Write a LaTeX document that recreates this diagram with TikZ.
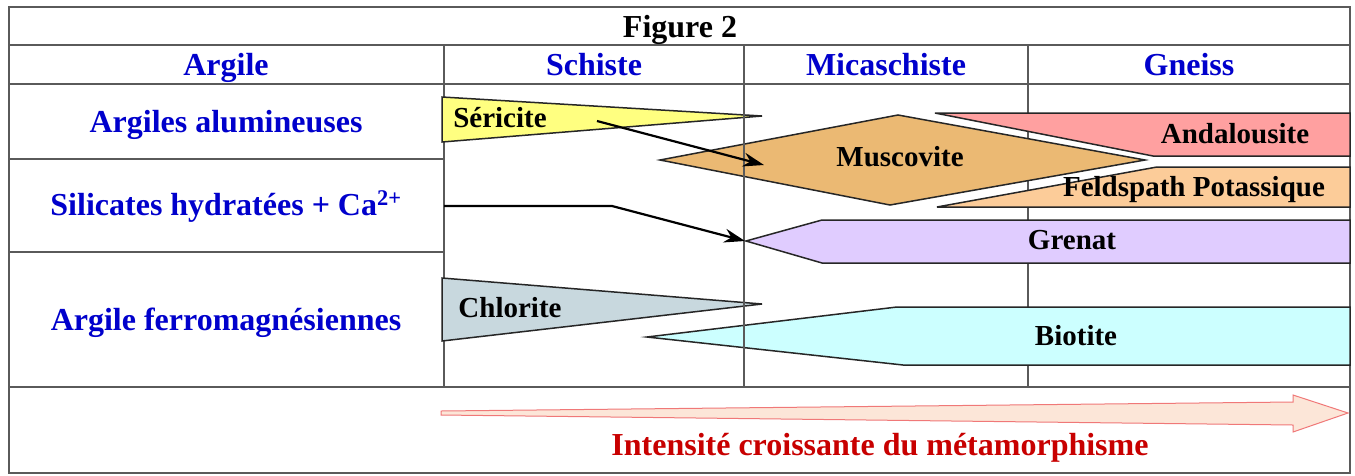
\documentclass[tikz,border=0pt]{standalone}
\usepackage{fontspec}
\setmainfont{Liberation Serif}
\usetikzlibrary{arrows.meta}
\definecolor{hdrblue}{RGB}{0,0,204}
\definecolor{intred}{RGB}{200,0,0}
\definecolor{gridgray}{RGB}{90,90,90}
\definecolor{sericol}{RGB}{255,255,128}
\definecolor{muscol}{RGB}{235,185,115}
\definecolor{andcol}{RGB}{255,160,160}
\definecolor{feldcol}{RGB}{252,204,153}
\definecolor{grencol}{RGB}{224,204,255}
\definecolor{chlocol}{RGB}{200,216,222}
\definecolor{biocol}{RGB}{204,255,255}
\definecolor{arrfill}{RGB}{252,230,216}
\definecolor{arrdraw}{RGB}{240,120,120}
\tikzset{
  grid/.style={draw=gridgray, line width=1.5pt},
  mineral/.style={draw=black!85, line width=1.5pt, line join=miter},
  big/.style={font=\bfseries\fontsize{32}{38}\selectfont, inner sep=0pt, anchor=base},
  hdr/.style={big, text=hdrblue},
  lbl/.style={font=\bfseries\fontsize{29}{34}\selectfont, inner sep=0pt, anchor=base, text=black},
  conn/.style={draw=black, line width=2.2pt, -{Stealth[length=21pt,width=14pt,inset=7pt]}},
}
\begin{document}
\begin{tikzpicture}[x=1pt,y=-1pt]
\useasboundingbox (0,0) rectangle (1355,475);
\fill[white] (0,0) rectangle (1355,475);
% table grid
\draw[grid] (9,7) rectangle (1350,473);
\draw[grid] (9,45) -- (1350,45);
\draw[grid] (9,84) -- (1350,84);
\draw[grid] (9,387) -- (1350,387);
\draw[grid] (444,45) -- (444,387);
\draw[grid] (1028,45) -- (1028,387);
\draw[grid] (9,159) -- (444,159);
\draw[grid] (9,252) -- (444,252);
% minerals
\draw[mineral, fill=sericol] (442,97) -- (762,116) -- (442,142) -- cycle;
\draw[mineral, fill=andcol] (935,113) -- (1350,113) -- (1350,156) -- (1153,156) -- cycle;
\draw[mineral, fill=feldcol] (1157,167) -- (1350,167) -- (1350,207) -- (937,207) -- cycle;
\draw[mineral, fill=muscol] (660,160) -- (898,115) -- (1145,160) -- (890,205) -- cycle;
\draw[mineral, fill=grencol] (746,241) -- (822,220) -- (1350,220) -- (1350,263) -- (822,263) -- cycle;
\draw[mineral, fill=chlocol] (442,278) -- (762,304) -- (442,341) -- cycle;
\draw[mineral, fill=biocol] (647,337) -- (897,307) -- (1350,307) -- (1350,365) -- (903,365) -- cycle;
\draw[grid] (744,45) -- (744,387);
% intensity arrow
\draw[draw=arrdraw, fill=arrfill, line width=1pt] (441,411) -- (1293,402) -- (1293,395) -- (1348,413) -- (1293,432) -- (1293,425) -- (441,415) -- cycle;
% connectors
\coordinate (a1s) at (597,121);
\coordinate (a1e) at (764,165);
\coordinate (a2s) at (444,206);
\coordinate (a2k) at (612,206);
\coordinate (a2e) at (745,241);
\draw[conn] (a1s) -- (a1e);
\draw[conn] (a2s) -- (a2k) -- (a2e);
% texts
\node[big] (fig) at (680,37) {Figure 2};
\node[hdr] (hArg) at (226,75) {Argile};
\node[hdr] (hSch) at (594,75) {Schiste};
\node[hdr] (hMic) at (886,75) {Micaschiste};
\node[hdr] (hGne) at (1189,75) {Gneiss};
\node[hdr] (rAlu) at (226,132) {Argiles alumineuses};
\node[hdr] (rSil) at (226,215) {Silicates hydratées + Ca\textsuperscript{2+}};
\node[hdr] (rFer) at (226,330) {Argile ferromagnésiennes};
\node[lbl] (ser) at (500,127) {Séricite};
\node[lbl] (mus) at (900,166) {Muscovite};
\node[lbl] (and) at (1235,143) {Andalousite};
\node[lbl] (fel) at (1194,196) {Feldspath Potassique};
\node[lbl] (gre) at (1072,249) {Grenat};
\node[lbl] (chl) at (510,317) {Chlorite};
\node[lbl] (bio) at (1076,345) {Biotite};
\node[big, text=intred] (int) at (880,455) {Intensité croissante du métamorphisme};
\end{tikzpicture}
\end{document}
